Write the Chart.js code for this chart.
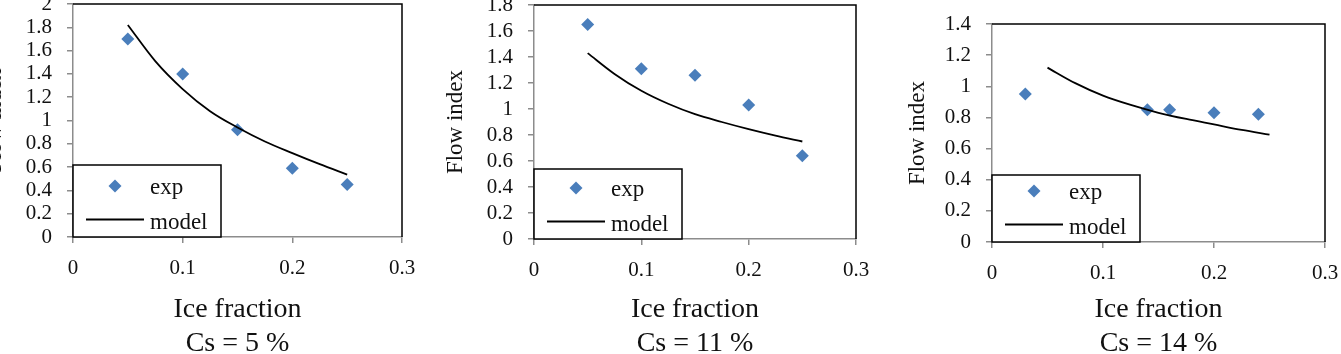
<!DOCTYPE html>
<html>
<head>
<meta charset="utf-8">
<script src="https://cdn.jsdelivr.net/npm/chart.js@4.4.1/dist/chart.umd.min.js"></script>
<style>
  html, body { margin: 0; padding: 0; background: #fff; }
  body { width: 1341px; height: 354px; position: relative; overflow: hidden; }
  canvas { position: absolute; }
</style>
</head>
<body>
<canvas id="grafik1"></canvas>
<canvas id="grafik2"></canvas>
<canvas id="grafik3"></canvas>
<script>
// Veriler
const xTicks = [0, 0.1, 0.2, 0.3];
const yTicks5 = [0, 0.2, 0.4, 0.6, 0.8, 1, 1.2, 1.4, 1.6, 1.8, 2];
const yTicks11 = [0, 0.2, 0.4, 0.6, 0.8, 1, 1.2, 1.4, 1.6, 1.8];
const yTicks14 = [0, 0.2, 0.4, 0.6, 0.8, 1, 1.2, 1.4];

const seriesLabels = ['exp', 'model'];
const xTitle = 'Ice fraction';
const yTitle = 'Flow index';
const caseLabels = ['Cs = 5 %', 'Cs = 11 %', 'Cs = 14 %'];

// model eğrisinin okunduğu buz oranları
const iceModel = [0.05, 0.075, 0.1, 0.125, 0.15, 0.175, 0.2, 0.225, 0.25];

const iceExp5 = [0.05, 0.1, 0.15, 0.2, 0.25];
const flowExp5 = [1.70, 1.40, 0.92, 0.59, 0.45];
const flowModel5 = [1.82, 1.51, 1.27, 1.08, 0.94, 0.82, 0.72, 0.625, 0.535];

const iceExp11 = [0.05, 0.1, 0.15, 0.2, 0.25];
const flowExp11 = [1.65, 1.31, 1.26, 1.03, 0.64];
const flowModel11 = [1.43, 1.27, 1.14, 1.04, 0.96, 0.90, 0.845, 0.795, 0.75];

const iceExp14 = [0.03, 0.14, 0.16, 0.2, 0.24];
const flowExp14 = [0.95, 0.85, 0.85, 0.83, 0.82];
const flowModel14 = [1.12, 1.02, 0.94, 0.88, 0.83, 0.79, 0.755, 0.72, 0.69];

// Yerleşim (sayfa pikselleri)
const panels = [
  { id: 'grafik1', canvas: { left: -19, top: -30, width: 460, height: 390 },
    area: { left: 73, top: 4, right: 402, bottom: 237 }, legendH: 72,
    iceExp: iceExp5, flowExp: flowExp5, flowModel: flowModel5, yTicks: yTicks5, caption: caseLabels[0] },
  { id: 'grafik2', canvas: { left: 442, top: -30, width: 441, height: 390 },
    area: { left: 534, top: 5, right: 856, bottom: 239 }, legendH: 70,
    iceExp: iceExp11, flowExp: flowExp11, flowModel: flowModel11, yTicks: yTicks11, caption: caseLabels[1] },
  { id: 'grafik3', canvas: { left: 904, top: -30, width: 460, height: 390 },
    area: { left: 992, top: 24, right: 1325, bottom: 242 }, legendH: 67,
    iceExp: iceExp14, flowExp: flowExp14, flowModel: flowModel14, yTicks: yTicks14, caption: caseLabels[2] }
];

const SERIF = "'Liberation Serif', 'Times New Roman', serif";
const BLUE = '#4a7ebb';
Chart.defaults.color = '#111';

// Çizim alanının üst ve sağ kenarı
const plotFrame = {
  id: 'plotFrame',
  afterDraw(chart) {
    const { ctx, chartArea: a } = chart;
    ctx.save();
    ctx.strokeStyle = '#000';
    ctx.lineWidth = 1.5;
    ctx.beginPath();
    ctx.moveTo(a.left, a.top);
    ctx.lineTo(a.right, a.top);
    ctx.lineTo(a.right, a.bottom);
    ctx.stroke();
    ctx.restore();
  }
};

// Sol alttaki lejant kutusu
const legendBox = {
  id: 'legendBox',
  afterDraw(chart) {
    const { ctx, chartArea: a } = chart;
    const h = chart.options.plugins.legendBox.height;
    const w = 148;
    const x = a.left, bottom = a.bottom, y = bottom - h;
    const exp = chart.data.datasets[0];
    const model = chart.data.datasets[1];
    ctx.save();
    ctx.fillStyle = '#fff';
    ctx.fillRect(x, y, w, h);
    ctx.strokeStyle = '#000';
    ctx.lineWidth = 1.5;
    ctx.strokeRect(x, y, w, h);

    // exp işareti
    const r = 6.5, cx = x + 42, cy = bottom - 51;
    ctx.fillStyle = exp.backgroundColor;
    ctx.beginPath();
    ctx.moveTo(cx - r, cy);
    ctx.lineTo(cx, cy - r);
    ctx.lineTo(cx + r, cy);
    ctx.lineTo(cx, cy + r);
    ctx.closePath();
    ctx.fill();

    // model çizgisi
    ctx.strokeStyle = model.borderColor;
    ctx.lineWidth = model.borderWidth;
    ctx.beginPath();
    ctx.moveTo(x + 13, bottom - 17.5);
    ctx.lineTo(x + 71, bottom - 17.5);
    ctx.stroke();

    ctx.fillStyle = '#111';
    ctx.font = '23px ' + SERIF;
    ctx.textBaseline = 'alphabetic';
    ctx.fillText(exp.label, x + 77, bottom - 43);
    ctx.fillText(model.label, x + 77, bottom - 8);
    ctx.restore();
  }
};

function createPanel(p) {
  const el = document.getElementById(p.id);
  el.width = p.canvas.width;
  el.height = p.canvas.height;
  el.style.left = p.canvas.left + 'px';
  el.style.top = p.canvas.top + 'px';

  const c = p.canvas, a = p.area;
  const yWidth = a.left - c.left;
  const xHeight = c.top + c.height - a.bottom;

  new Chart(el, {
    type: 'scatter',
    data: {
      datasets: [{
        label: seriesLabels[0],
        data: p.iceExp.map((v, i) => ({ x: v, y: p.flowExp[i] })),
        pointStyle: 'rectRot',
        pointRadius: 6.5,
        pointBorderWidth: 0,
        backgroundColor: BLUE,
        borderColor: BLUE,
        order: 1
      }, {
        label: seriesLabels[1],
        data: iceModel.map((v, i) => ({ x: v, y: p.flowModel[i] })),
        showLine: true,
        pointRadius: 0,
        borderColor: '#000',
        borderWidth: 1.8,
        cubicInterpolationMode: 'monotone',
        order: 0
      }]
    },
    options: {
      responsive: false,
      animation: false,
      events: [],
      layout: {
        padding: { left: 0, top: a.top - c.top, right: c.left + c.width - a.right, bottom: 0 }
      },
      plugins: {
        legend: { display: false },
        tooltip: { enabled: false },
        legendBox: { height: p.legendH }
      },
      scales: {
        x: {
          type: 'linear',
          min: 0, max: 0.3,
          afterBuildTicks: s => { s.ticks = xTicks.map(v => ({ value: v })); },
          afterFit: s => { s.height = xHeight; },
          ticks: { padding: 13, autoSkip: false, maxRotation: 0, font: { family: SERIF, size: 21 }, callback: v => String(v) },
          grid: { drawOnChartArea: false, drawTicks: true, tickLength: 6, color: '#8c8c8c', lineWidth: 1.5 },
          border: { color: '#8c8c8c', width: 1.5 },
          title: {
            display: true,
            text: [xTitle, p.caption],
            padding: 0,
            color: '#111',
            font: { family: SERIF, size: 28, lineHeight: 1.2 }
          }
        },
        y: {
          type: 'linear',
          min: 0, max: p.yTicks[p.yTicks.length - 1],
          afterBuildTicks: s => { s.ticks = p.yTicks.map(v => ({ value: v })); },
          afterFit: s => { s.width = yWidth; },
          ticks: { padding: 15, autoSkip: false, font: { family: SERIF, size: 21 }, callback: v => String(v) },
          grid: { drawOnChartArea: false, drawTicks: true, tickLength: 6, color: '#8c8c8c', lineWidth: 1.5 },
          border: { color: '#8c8c8c', width: 1.5 },
          title: {
            display: true,
            text: yTitle,
            padding: 0,
            color: '#111',
            font: { family: SERIF, size: 23, lineHeight: 1.2 }
          }
        }
      }
    },
    plugins: [plotFrame, legendBox]
  });
}

panels.forEach(createPanel);
</script>
</body>
</html>
